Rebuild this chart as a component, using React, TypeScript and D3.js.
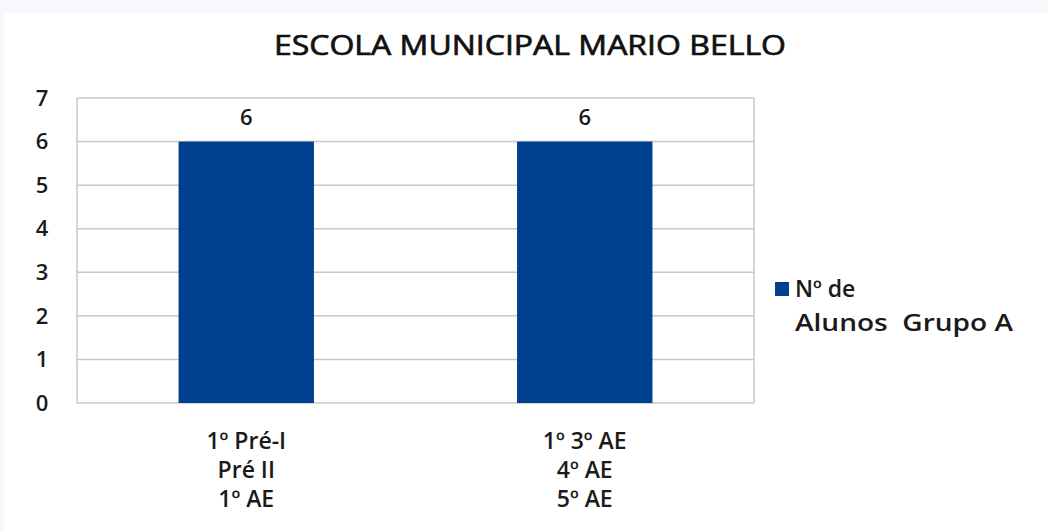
import React from "react";
import * as d3 from "d3";

const title = "ESCOLA MUNICIPAL MARIO BELLO";
const categories = ["1º Pré-I|Pré II|1º AE", "1º 3º AE|4º AE|5º AE"];
const values = [6, 6];
const seriesName = ["Nº de", "Alunos  Grupo A"];
const yTicks = [0, 1, 2, 3, 4, 5, 6, 7];

const W = 1048;
const H = 531;
const FONT = "'Open Sans', 'Noto Sans', sans-serif";
const BAR = "#00418f";
const INK = "#1a1a1a";

const App = () => {
  const left = 77;
  const right = 754;
  const top = 98;
  const bottom = 403;

  const x = d3
    .scaleBand<number>()
    .domain(categories.map((_, i) => i))
    .range([left, right])
    .paddingInner(0.6)
    .paddingOuter(0.3);
  const y = d3.scaleLinear().domain([0, 7]).range([bottom, top]);

  return (
    <svg
      width={W}
      height={H}
      style={{ position: "absolute", left: 0, top: 0, fontFamily: FONT }}
    >
      <rect x={0} y={0} width={W} height={H} fill="#f8f8fc" />
      <rect x={4} y={13} width={W - 4} height={H - 13} fill="#ffffff" />
      {/* título: regular com contorno fino pra ficar "meio-negrito" */}
      <text
        x={530}
        y={55}
        textAnchor="middle"
        fontSize={28}
        fill="#111"
        stroke="#111"
        strokeWidth={0.7}
        textLength={512}
        lengthAdjust="spacingAndGlyphs"
      >
        {title}
      </text>

      {/* linhas de grade */}
      {yTicks.map((t) => (
        <line
          key={t}
          x1={left}
          x2={right}
          y1={y(t)}
          y2={y(t)}
          stroke="#c8c8c8"
          strokeWidth={1.5}
        />
      ))}
      <line x1={left} x2={left} y1={top} y2={bottom} stroke="#c8c8c8" strokeWidth={1.5} />
      <line x1={right} x2={right} y1={top} y2={bottom} stroke="#c8c8c8" strokeWidth={1.5} />

      {yTicks.map((t) => (
        <text
          key={t}
          x={42}
          y={y(t)}
          dy="0.35em"
          textAnchor="middle"
          fontSize={22}
          fontWeight={600}
          fill={INK}
        >
          {t}
        </text>
      ))}

      {values.map((v, i) => (
        <g key={i}>
          <rect
            x={x(i)!}
            y={y(v)}
            width={x.bandwidth()}
            height={y(0) - y(v)}
            fill={BAR}
          />
          <text
            x={x(i)! + x.bandwidth() / 2}
            y={y(v) - 24}
            dy="0.35em"
            textAnchor="middle"
            fontSize={22}
            fontWeight={600}
            fill={INK}
          >
            {v}
          </text>
          {categories[i].split("|").map((line, j) => (
            <text
              key={j}
              x={x(i)! + x.bandwidth() / 2}
              y={441 + j * 29}
              dy="0.35em"
              textAnchor="middle"
              fontSize={23}
              fontWeight={600}
              fill={INK}
            >
              {line}
            </text>
          ))}
        </g>
      ))}

      {/* legenda */}
      <rect x={775} y={282} width={14} height={14} fill={BAR} />
      {seriesName.map((s, j) => (
        <text
          key={j}
          x={795}
          y={289 + j * 34}
          dy="0.35em"
          fontSize={23}
          fontWeight={600}
          fill={INK}
          textLength={j === 1 ? 218 : undefined}
          lengthAdjust="spacingAndGlyphs"
          style={{ whiteSpace: "pre" }}
        >
          {s}
        </text>
      ))}
    </svg>
  );
};

export default App;
